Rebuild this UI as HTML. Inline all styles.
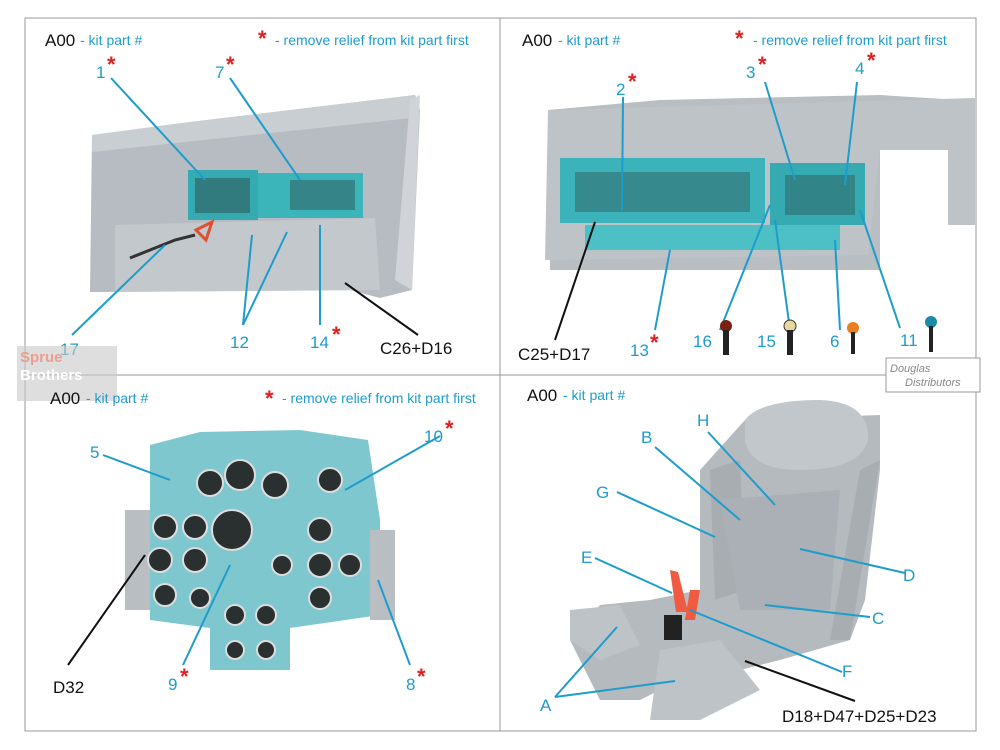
<!DOCTYPE html>
<html><head><meta charset="utf-8"><style>
html,body{margin:0;padding:0;background:#fff}
svg{display:block}
text{font-family:"Liberation Sans",sans-serif}
.b{fill:#1e9ccc;font-size:17px}
.k{fill:#111;font-size:17px}
.h{font-size:14px}
.s{fill:#e02020;font-size:22px;font-weight:bold}
</style></head><body>
<svg width="1000" height="750" viewBox="0 0 1000 750">
<rect x="25" y="18" width="951" height="713" fill="none" stroke="#999" stroke-width="1"/>
<line x1="500" y1="18" x2="500" y2="731" stroke="#999"/>
<line x1="25" y1="375" x2="976" y2="375" stroke="#999"/>

<!-- Q1 -->
<polygon points="92,135 190,122 415,95 420,110 412,290 380,298 350,290 90,292" fill="#b7bcc2"/>
<polygon points="92,135 190,122 415,95 412,118 92,152" fill="#c9ced3"/>
<polygon points="410,100 420,95 412,290 395,280" fill="#d0d4d8"/>
<polygon points="115,225 375,218 380,290 115,292" fill="#c3c8cc"/>
<rect x="188" y="170" width="70" height="50" fill="#35aab0"/>
<rect x="258" y="173" width="105" height="45" fill="#3bb4ba"/>
<rect x="195" y="178" width="55" height="35" fill="#2d4a4c" opacity=".5"/>
<rect x="290" y="180" width="65" height="30" fill="#2d4a4c" opacity=".45"/>
<path d="M130 258 L175 240 L195 235" stroke="#333" stroke-width="3" fill="none"/>
<polygon points="196,230 212,222 206,240" fill="none" stroke="#e05030" stroke-width="3"/>
<g stroke="#1e9ccc" stroke-width="2" fill="none">
<line x1="111" y1="78" x2="205" y2="180"/>
<line x1="230" y1="78" x2="300" y2="180"/>
<line x1="72" y1="335" x2="165" y2="245"/>
<line x1="243" y1="325" x2="252" y2="235"/><line x1="243" y1="325" x2="287" y2="232"/>
<line x1="320" y1="325" x2="320" y2="225"/>
</g>
<line x1="345" y1="283" x2="418" y2="335" stroke="#111" stroke-width="2"/>
<text x="45" y="46" class="k">A00</text><text x="80" y="45" class="b h">- kit part #</text>
<text x="258" y="46" class="s">*</text><text x="275" y="45" class="b h">- remove relief from kit part first</text>
<text x="96" y="78" class="b">1</text><text x="107" y="72" class="s">*</text>
<text x="215" y="78" class="b">7</text><text x="226" y="72" class="s">*</text>
<text x="60" y="355" class="b">17</text>
<text x="230" y="348" class="b">12</text>
<text x="310" y="348" class="b">14</text><text x="332" y="342" class="s">*</text>
<text x="380" y="354" class="k">C26+D16</text>
<rect x="17" y="346" width="100" height="55" fill="#c8c8c8" opacity=".6"/>
<text x="20" y="362" fill="#e8a090" font-size="15" font-weight="bold">Sprue</text>
<text x="20" y="380" fill="#fff" font-size="15" font-weight="bold">Brothers</text>

<!-- Q2 -->
<polygon points="548,110 660,100 880,95 960,100 965,110 880,120 880,195 880,270 550,270" fill="#b9bec3"/>
<polygon points="548,110 975,98 975,225 948,225 948,150 880,150 868,255 545,260" fill="#bec3c8"/>
<rect x="560" y="158" width="205" height="65" fill="#3cb3ba"/>
<rect x="770" y="163" width="95" height="62" fill="#35aab0"/>
<rect x="585" y="225" width="255" height="25" fill="#4cc0c4"/>
<rect x="575" y="172" width="175" height="40" fill="#2d4a4c" opacity=".4"/>
<rect x="785" y="175" width="70" height="40" fill="#2d4a4c" opacity=".4"/>
<g stroke="#1e9ccc" stroke-width="2" fill="none">
<line x1="623" y1="97" x2="622" y2="210"/>
<line x1="765" y1="82" x2="795" y2="180"/>
<line x1="857" y1="82" x2="845" y2="185"/>
<line x1="720" y1="330" x2="770" y2="205"/>
<line x1="790" y1="330" x2="775" y2="220"/>
<line x1="840" y1="330" x2="835" y2="240"/>
<line x1="900" y1="328" x2="860" y2="210"/>
<line x1="655" y1="330" x2="670" y2="250"/>
</g>
<line x1="555" y1="340" x2="595" y2="222" stroke="#111" stroke-width="2"/>
<text x="522" y="46" class="k">A00</text><text x="558" y="45" class="b h">- kit part #</text>
<text x="735" y="46" class="s">*</text><text x="753" y="45" class="b h">- remove relief from kit part first</text>
<text x="616" y="95" class="b">2</text><text x="628" y="89" class="s">*</text>
<text x="746" y="78" class="b">3</text><text x="758" y="72" class="s">*</text>
<text x="855" y="74" class="b">4</text><text x="867" y="68" class="s">*</text>
<text x="518" y="360" class="k">C25+D17</text>
<text x="630" y="356" class="b">13</text><text x="650" y="350" class="s">*</text>
<text x="693" y="347" class="b">16</text><text x="757" y="347" class="b">15</text>
<text x="830" y="347" class="b">6</text><text x="900" y="346" class="b">11</text>
<circle cx="726" cy="326" r="6" fill="#7a2010"/><rect x="723" y="330" width="6" height="25" fill="#222"/>
<circle cx="790" cy="326" r="6" fill="#e8d8a0" stroke="#333"/><rect x="787" y="330" width="6" height="25" fill="#222"/>
<circle cx="853" cy="328" r="6" fill="#e88020"/><rect x="851" y="332" width="4" height="22" fill="#222"/>
<circle cx="931" cy="322" r="6" fill="#1a8aa8"/><rect x="929" y="326" width="4" height="26" fill="#222"/>
<rect x="886" y="358" width="94" height="34" fill="#fff" stroke="#999"/>
<text x="890" y="372" fill="#888" font-size="11" font-style="italic">Douglas</text>
<text x="905" y="386" fill="#888" font-size="11" font-style="italic">Distributors</text>

<!-- Q3 -->
<rect x="125" y="510" width="40" height="100" fill="#b9bec3"/>
<polygon points="150,445 200,432 300,430 368,440 380,520 380,615 290,628 290,670 210,670 210,628 150,620" fill="#7fc7cf"/>
<rect x="370" y="530" width="25" height="90" fill="#b9bec3"/>
<g fill="#2a2f30" stroke="#ddd" stroke-width="2">
<circle cx="210" cy="483" r="13"/><circle cx="240" cy="475" r="15"/><circle cx="275" cy="485" r="13"/>
<circle cx="330" cy="480" r="12"/><circle cx="232" cy="530" r="20"/>
<circle cx="165" cy="527" r="12"/><circle cx="195" cy="527" r="12"/><circle cx="160" cy="560" r="12"/>
<circle cx="195" cy="560" r="12"/><circle cx="165" cy="595" r="11"/><circle cx="320" cy="530" r="12"/>
<circle cx="320" cy="565" r="12"/><circle cx="350" cy="565" r="11"/><circle cx="320" cy="598" r="11"/>
<circle cx="235" cy="615" r="10"/><circle cx="266" cy="615" r="10"/><circle cx="235" cy="650" r="9"/><circle cx="266" cy="650" r="9"/>
<circle cx="200" cy="598" r="10"/><circle cx="282" cy="565" r="10"/>
</g>
<g stroke="#1e9ccc" stroke-width="2" fill="none">
<line x1="103" y1="455" x2="170" y2="480"/>
<line x1="440" y1="436" x2="345" y2="490"/>
<line x1="183" y1="665" x2="230" y2="565"/>
<line x1="410" y1="665" x2="378" y2="580"/>
</g>
<line x1="68" y1="665" x2="145" y2="555" stroke="#111" stroke-width="2"/>
<text x="50" y="404" class="k">A00</text><text x="86" y="403" class="b h">- kit part #</text>
<text x="265" y="406" class="s">*</text><text x="282" y="403" class="b h">- remove relief from kit part first</text>
<text x="90" y="458" class="b">5</text>
<text x="424" y="442" class="b">10</text><text x="445" y="436" class="s">*</text>
<text x="53" y="693" class="k">D32</text>
<text x="168" y="690" class="b">9</text><text x="180" y="684" class="s">*</text>
<text x="406" y="690" class="b">8</text><text x="417" y="684" class="s">*</text>

<!-- Q4 -->
<polygon points="745,420 790,418 880,415 880,470 865,600 850,640 780,660 740,670 700,680 660,690 640,700 600,700 570,640 600,605 650,600 700,590 700,470" fill="#b5babf"/>
<path d="M745 420 Q760 400 820 400 Q870 402 868 440 Q860 470 800 470 Q750 470 745 440Z" fill="#c2c7cb"/>
<polygon points="860,470 880,460 850,640 830,640" fill="#a8adb2"/>
<polygon points="710,470 740,460 745,590 715,600" fill="#a8adb2"/>
<polygon points="720,500 840,490 830,610 740,610" fill="#aab0b5"/>
<polygon points="660,650 720,640 760,690 700,720 650,720" fill="#bec3c8"/>
<polygon points="570,610 620,605 640,645 600,660 570,640" fill="#bec3c8"/>
<polygon points="670,570 678,572 688,612 676,612" fill="#ef5a40"/>
<polygon points="690,590 700,590 695,620 685,620" fill="#ef5a40"/>
<rect x="664" y="615" width="18" height="25" fill="#222"/>
<g stroke="#1e9ccc" stroke-width="2" fill="none">
<line x1="655" y1="447" x2="740" y2="520"/>
<line x1="708" y1="432" x2="775" y2="505"/>
<line x1="617" y1="492" x2="715" y2="537"/>
<line x1="595" y1="558" x2="672" y2="593"/>
<line x1="690" y1="610" x2="842" y2="672"/>
<line x1="800" y1="549" x2="905" y2="573"/>
<line x1="765" y1="605" x2="870" y2="617"/>
<line x1="555" y1="697" x2="617" y2="627"/>
<line x1="555" y1="697" x2="675" y2="681"/>
</g>
<line x1="745" y1="661" x2="855" y2="701" stroke="#111" stroke-width="2"/>
<text x="527" y="401" class="k">A00</text><text x="563" y="400" class="b h">- kit part #</text>
<text x="697" y="426" class="b">H</text><text x="641" y="443" class="b">B</text>
<text x="596" y="498" class="b">G</text><text x="581" y="563" class="b">E</text>
<text x="903" y="581" class="b">D</text><text x="872" y="624" class="b">C</text>
<text x="842" y="677" class="b">F</text><text x="540" y="711" class="b">A</text>
<text x="782" y="722" class="k">D18+D47+D25+D23</text>
</svg>
</body></html>
